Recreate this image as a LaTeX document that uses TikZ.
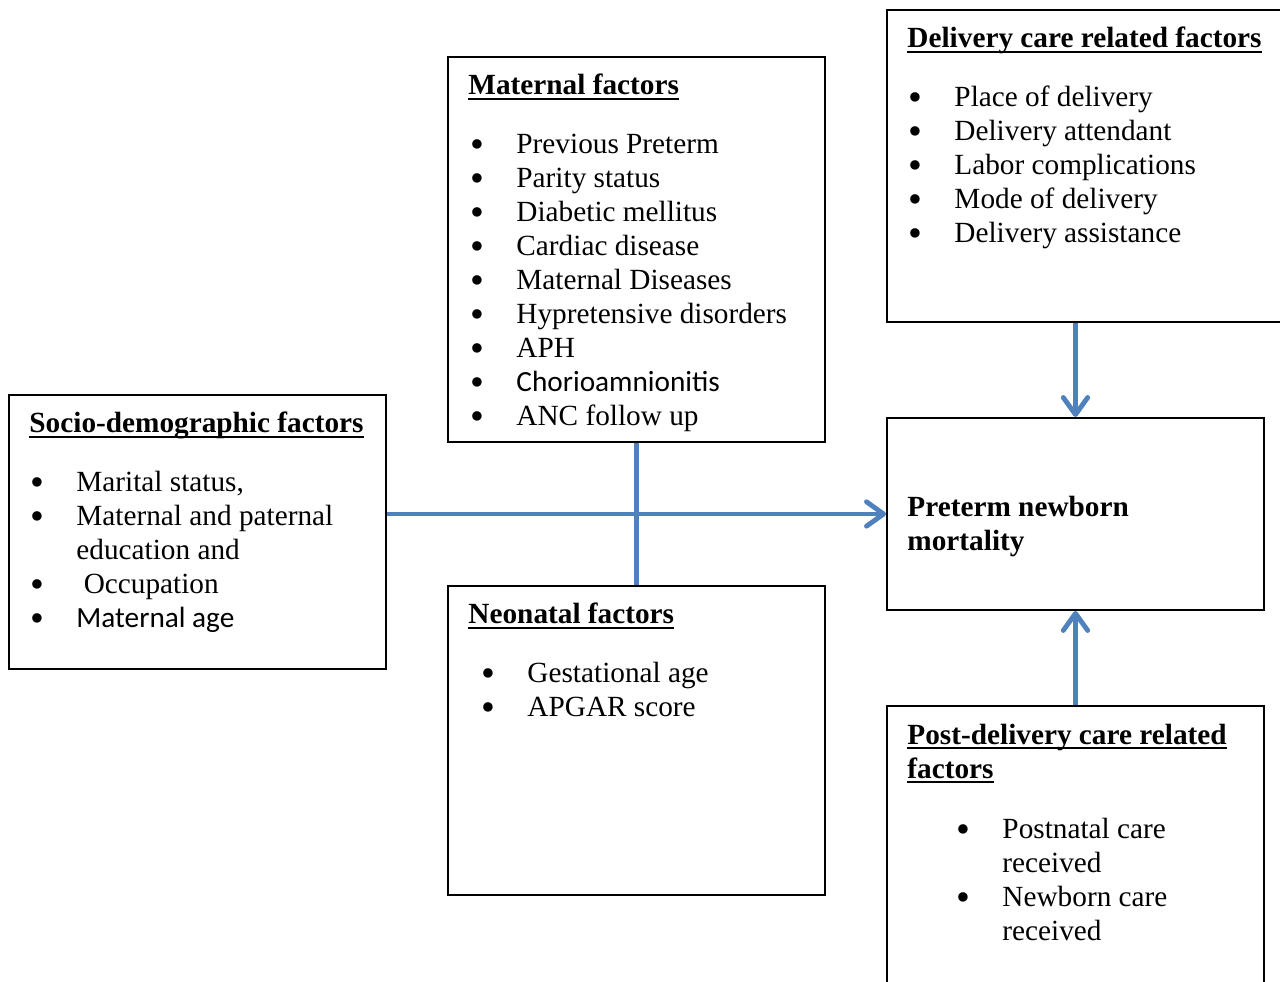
\documentclass[tikz,border=0pt]{standalone}
\usepackage{fontspec}
\usepackage{graphicx}
\setmainfont{Liberation Serif}
\newfontfamily\calibrifont{Carlito}
\usetikzlibrary{arrows.meta,positioning}
\definecolor{linkblue}{HTML}{4F81BD}
\newlength{\px}\setlength{\px}{0.41pt}
% bullet item, continuation line, underlined title
\newcommand{\bigbul}{\raisebox{-1.7pt}{\scalebox{1.35}{\textbullet}}}
\newcommand{\itm}[2]{\hspace*{#1\px}\makebox[46\px][l]{\bigbul}#2}
\newcommand{\cont}[2]{\hspace*{\dimexpr#1\px+46\px\relax}#2}
\newcommand{\ttl}[1]{\setbox0\hbox{\bfseries #1}\rlap{\rule[-2pt]{\wd0}{0.8pt}}\box0}
\tikzset{
  box/.style  = {draw, line width=0.8pt, inner sep=0pt, anchor=north west},
  txt/.style  = {inner sep=0pt, align=left, execute at begin node=\strut,
                 font=\fontsize{12pt}{13.94pt}\selectfont},
  link/.style = {draw=linkblue, line width=2pt,
                 -{Straight Barb[length=7pt,width=10pt,round]}}
}
\begin{document}
\begin{tikzpicture}[x=0.41pt, y=-0.41pt]
\useasboundingbox (0,0) rectangle (1280,981);
\clip (0,0) rectangle (1280,981);

% frames
\node[box, minimum width=377*\px, minimum height=274*\px] (soc)  at (8,394)  {};
\node[box, minimum width=377*\px, minimum height=385*\px] (mat)  at (447,56)  {};
\node[box, minimum width=377*\px, minimum height=309*\px] (neo)  at (447,585) {};
\node[box, minimum width=404*\px, minimum height=312*\px] (del)  at (886,9)   {};
\node[box, minimum width=377*\px, minimum height=192*\px] (pre)  at (886,417) {};
\node[box, minimum width=377*\px, minimum height=295*\px] (post) at (886,705) {};

% contents, placed inside each frame
\begin{scope}[every node/.style={txt}]
\node[below right=7.2pt and 8.6pt of soc.north west] (socT) {\ttl{Socio-demographic factors}\\[25\px]
  \itm{1}{Marital status,}\\
  \itm{1}{Maternal and paternal}\\
  \cont{1}{education and}\\
  \itm{1}{\ Occupation}\\
  \itm{1}{{\calibrifont Maternal age}}};

\node[below right=7.2pt and 8.6pt of mat.north west] (matT) {\ttl{Maternal factors}\\[25\px]
  \itm{2}{Previous Preterm}\\
  \itm{2}{Parity status}\\
  \itm{2}{Diabetic mellitus}\\
  \itm{2}{Cardiac disease}\\
  \itm{2}{Maternal Diseases}\\
  \itm{2}{Hypretensive disorders}\\
  \itm{2}{APH}\\
  \itm{2}{{\calibrifont Chorioamnionitis}}\\
  \itm{2}{ANC follow up}};

\node[below right=7.2pt and 8.6pt of neo.north west] (neoT) {\ttl{Neonatal factors}\\[25\px]
  \itm{13}{Gestational age}\\
  \itm{13}{APGAR score}};

\node[below right=7.2pt and 8.6pt of del.north west] (delT) {\ttl{Delivery care related factors}\\[25\px]
  \itm{1}{Place of delivery}\\
  \itm{1}{Delivery attendant}\\
  \itm{1}{Labor complications}\\
  \itm{1}{Mode of delivery}\\
  \itm{1}{Delivery assistance}};

\node[below right=32.3pt and 8.6pt of pre.north west] (preT) {\textbf{Preterm newborn}\\ \textbf{mortality}};

\node[below right=7.6pt and 8.6pt of post.north west] (postT) {\ttl{Post-delivery care related}\\ \ttl{factors}\\[26\px]
  \itm{49}{Postnatal care}\\
  \cont{49}{received}\\
  \itm{49}{Newborn care}\\
  \cont{49}{received}};
\end{scope}

% connectors
\draw[link] (soc.east |- pre.west) -- (pre.west);
\draw[draw=linkblue, line width=2pt] (mat.south) -- (neo.north);
\draw[link] (del.south -| pre.north) -- (pre.north);
\draw[link] (post.north) -- (pre.south);
\end{tikzpicture}
\end{document}
